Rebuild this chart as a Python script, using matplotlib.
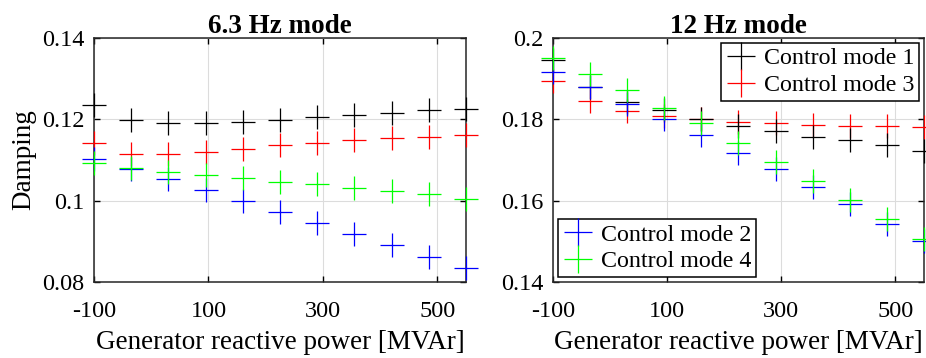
import numpy as np
import matplotlib
matplotlib.use('Agg')
import matplotlib.pyplot as plt

# Reactive power operating points [MVAr]
q_gen = [-100, -35, 30, 95, 160, 225, 290, 355, 420, 485, 550]

# Damping of the 6.3 Hz mode
d63_mode1 = [0.1235, 0.1198, 0.1192, 0.1192, 0.1193, 0.1198, 0.1205, 0.1211, 0.1215, 0.1223, 0.1225]
d63_mode2 = [0.1103, 0.1078, 0.1053, 0.1026, 0.0999, 0.0972, 0.0946, 0.0918, 0.0892, 0.0862, 0.0835]
d63_mode3 = [0.1141, 0.1114, 0.1114, 0.1120, 0.1127, 0.1137, 0.1143, 0.1149, 0.1155, 0.1157, 0.1161]
d63_mode4 = [0.1092, 0.1080, 0.1070, 0.1064, 0.1056, 0.1047, 0.1040, 0.1032, 0.1024, 0.1016, 0.1005]

# Damping of the 12 Hz mode
d12_mode1 = [0.1946, 0.1880, 0.1843, 0.1823, 0.1802, 0.1784, 0.1771, 0.1757, 0.1748, 0.1737, 0.1723]
d12_mode2 = [0.1917, 0.1880, 0.1838, 0.1802, 0.1761, 0.1718, 0.1677, 0.1633, 0.1591, 0.1543, 0.1502]
d12_mode3 = [0.1895, 0.1845, 0.1821, 0.1808, 0.1802, 0.1793, 0.1790, 0.1787, 0.1784, 0.1784, 0.1780]
d12_mode4 = [0.1950, 0.1911, 0.1872, 0.1827, 0.1790, 0.1743, 0.1696, 0.1648, 0.1602, 0.1555, 0.1505]

plt.rcParams['font.family'] = ['Liberation Serif', 'DejaVu Serif']
plt.rcParams['axes.unicode_minus'] = False

fig = plt.figure(figsize=(9.26, 3.58), dpi=100)
ax1 = fig.add_axes([0.1015, 0.2123, 0.4017, 0.6816])
ax2 = fig.add_axes([0.5972, 0.2123, 0.4006, 0.6816])

mk = dict(marker='+', linestyle='none', markersize=17, markeredgewidth=0.9, clip_on=False)


def style_axes(ax, ylim, yticks, yticklabels, title):
    ax.set_xlim(-100, 550)
    ax.set_ylim(*ylim)
    ax.set_xticks([-100, 100, 300, 500])
    ax.set_yticks(yticks)
    ax.set_yticklabels(yticklabels)
    ax.grid(True, color='#dcdcdc', linewidth=0.8)
    ax.set_axisbelow(True)
    ax.tick_params(direction='in', top=True, right=True, length=4, width=1,
                   pad=7, labelsize=17.5)
    ax.tick_params(axis='x', pad=13.5)
    for s in ax.spines.values():
        s.set_linewidth(1.1)
        s.set_color('#262626')
        s.set_zorder(1)
    ax.set_xlabel('Generator reactive power [MVAr]', fontsize=19.5, labelpad=6)
    ax.set_title(title, fontweight='bold', fontsize=19.5, pad=3.5)


# left panel
ax1.plot(q_gen, d63_mode3, color='#ff0000', **mk)
ax1.plot(q_gen, d63_mode1, color='#000000', **mk)
ax1.plot(q_gen, d63_mode2, color='#0000ff', **mk)
ax1.plot(q_gen, d63_mode4, color='#00ff00', **mk)
style_axes(ax1, (0.08, 0.14), [0.08, 0.1, 0.12, 0.14], ['0.08', '0.1', '0.12', '0.14'], '6.3 Hz mode')
ax1.set_ylabel('Damping', fontsize=19.5, labelpad=4)

# right panel
l3, = ax2.plot(q_gen, d12_mode3, color='#ff0000', **mk)
l1, = ax2.plot(q_gen, d12_mode1, color='#000000', **mk)
l2, = ax2.plot(q_gen, d12_mode2, color='#0000ff', **mk)
l4, = ax2.plot(q_gen, d12_mode4, color='#00ff00', **mk)
style_axes(ax2, (0.14, 0.2), [0.14, 0.16, 0.18, 0.2], ['0.14', '0.16', '0.18', '0.2'], '12 Hz mode')

leg_kw = dict(fancybox=False, framealpha=1, edgecolor='black', handlelength=1.3,
              handletextpad=0.3, borderpad=0.2, labelspacing=0.2, borderaxespad=0.2,
              fontsize=17.3, markerscale=1.15)
leg1 = ax2.legend([l1, l3], ['Control mode 1', 'Control mode 3'], loc='upper right', **leg_kw)
leg1.get_frame().set_linewidth(1.1)
leg1.set_zorder(5)
ax2.add_artist(leg1)
leg2 = ax2.legend([l2, l4], ['Control mode 2', 'Control mode 4'], loc='lower left', **leg_kw)
leg2.get_frame().set_linewidth(1.1)
leg2.set_zorder(5)

fig.savefig('out.png', dpi=100)
